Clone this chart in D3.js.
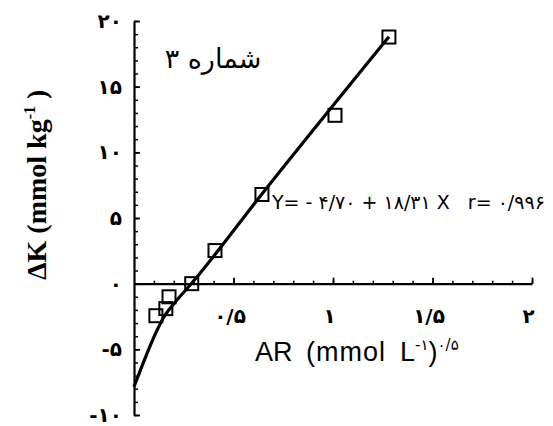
<!DOCTYPE html>
<html>
<head>
<meta charset="utf-8">
<script src="https://cdn.jsdelivr.net/npm/d3@7"></script>
<style>
  body { margin: 0; background: #fff; }
  svg { display: block; }
</style>
</head>
<body>
<script>
// measured points (AR^0.5 vs delta K)
const pointX = [0.11, 0.16, 0.176, 0.29, 0.407, 0.643, 1.01, 1.281];
const pointY = [-2.44, -1.9, -1.0, 0.0, 2.52, 6.79, 12.82, 18.78];

// fitted curve as drawn in the figure
const curveX = [0, 0.055, 0.105, 0.146, 0.206, 0.291, 0.643, 1.281];
const curveY = [-7.85, -5.7, -3.9, -2.65, -1.43, 0.05, 6.83, 18.8];

const yTicks = [-10, -5, 0, 5, 10, 15, 20];
const yLabels = ["-۱۰", "-۵", "۰", "۵", "۱۰", "۱۵", "۲۰"];
const xTicks = [0.5, 1, 1.5, 2];
const xLabels = ["۰/۵", "۱", "۱/۵", "۲"];

const width = 553, height = 426;

const svg = d3.select("body").append("svg")
  .attr("width", width)
  .attr("height", height);

const x = d3.scaleLinear().domain([0, 2]).range([134, 532]);
const y = d3.scaleLinear().domain([-10, 20]).range([415, 21]);

const faFont = "'DejaVu Sans', sans-serif";

// y axis, ticks pointing inward
svg.append("g")
  .attr("transform", `translate(${x(0)},0)`)
  .call(d3.axisLeft(y).tickValues(d3.range(-10, 21, 1)).tickSize(-4).tickSizeOuter(0).tickFormat(""))
  .call(g => g.select(".domain").remove())
  .call(g => g.selectAll("line").attr("stroke-width", 1.5));

svg.append("g")
  .attr("transform", `translate(${x(0)},0)`)
  .call(d3.axisLeft(y).tickValues(yTicks).tickSize(-6).tickSizeOuter(0).tickPadding(12)
    .tickFormat((d, i) => yLabels[i]))
  .call(g => g.select(".domain").attr("stroke-width", 2.2))
  .call(g => g.selectAll("line").attr("stroke-width", 1.8))
  .call(g => g.selectAll("text").attr("font-family", faFont).attr("font-size", 20)
    .attr("font-weight", "bold").attr("fill", "#000"));

// x axis at y = 0
svg.append("g")
  .attr("transform", `translate(0,${y(0)})`)
  .call(d3.axisBottom(x).tickValues(d3.range(1, 21).map(d => d / 10)).tickSize(-3).tickSizeOuter(0).tickFormat(""))
  .call(g => g.select(".domain").remove())
  .call(g => g.selectAll("line").attr("stroke-width", 1.5));

svg.append("g")
  .attr("transform", `translate(0,${y(0)})`)
  .call(d3.axisBottom(x).tickValues(xTicks).tickSize(-6).tickSizeOuter(0).tickPadding(25)
    .tickFormat((d, i) => xLabels[i]))
  .call(g => g.select(".domain").attr("stroke-width", 2.2))
  .call(g => g.selectAll("line").attr("stroke-width", 1.8))
  .call(g => g.selectAll("text").attr("font-family", faFont).attr("font-size", 20)
    .attr("font-weight", "bold").attr("fill", "#000").attr("dx", -4));

// fitted curve
const line = d3.line()
  .x((d, i) => x(curveX[i]))
  .y((d, i) => y(curveY[i]))
  .curve(d3.curveMonotoneX);

svg.append("path")
  .datum(curveX)
  .attr("d", line)
  .attr("fill", "none")
  .attr("stroke", "#000")
  .attr("stroke-width", 3.2);

// squares
const sq = 13;
svg.append("g")
  .selectAll("rect")
  .data(pointX)
  .enter().append("rect")
  .attr("x", (d, i) => x(d) - sq / 2)
  .attr("y", (d, i) => y(pointY[i]) - sq / 2)
  .attr("width", sq)
  .attr("height", sq)
  .attr("fill", "none")
  .attr("stroke", "#000")
  .attr("stroke-width", 2);

// title
svg.append("text")
  .attr("x", 213)
  .attr("y", 68)
  .attr("text-anchor", "middle")
  .attr("font-family", faFont)
  .attr("font-size", 27)
  .text("شماره ۳");

// equation
svg.append("text")
  .attr("x", 272)
  .attr("y", 209)
  .attr("font-family", faFont)
  .attr("font-size", 19)
  .attr("xml:space", "preserve")
  .text("Y= - ۴/۷۰ + ۱۸/۳۱ X   r= ۰/۹۹۶");

// x axis title
const xt = svg.append("text")
  .attr("y", 361)
  .attr("font-family", "'Liberation Sans', Arial, sans-serif")
  .attr("font-size", 27);
xt.append("tspan").attr("x", 255).text("AR");
xt.append("tspan").attr("x", 306).attr("letter-spacing", 1).text("(mmol");
xt.append("tspan").attr("x", 400).text("L");
xt.append("tspan").attr("dy", -11).attr("font-size", 15).attr("font-family", faFont).text("-۱");
xt.append("tspan").attr("dy", 11).text(")");
xt.append("tspan").attr("dy", -11).attr("font-size", 15).attr("font-family", faFont).text("۰/۵");

// y axis title
const yt = svg.append("text")
  .attr("transform", "translate(46,280) rotate(-90)")
  .attr("font-family", "'Liberation Serif', 'Times New Roman', serif")
  .attr("font-size", 28)
  .attr("font-weight", "bold");
yt.append("tspan").text("ΔK (mmol kg");
yt.append("tspan").attr("dy", -11).attr("font-size", 16).text("-1");
yt.append("tspan").attr("dy", 11).text(" )");
</script>
</body>
</html>
